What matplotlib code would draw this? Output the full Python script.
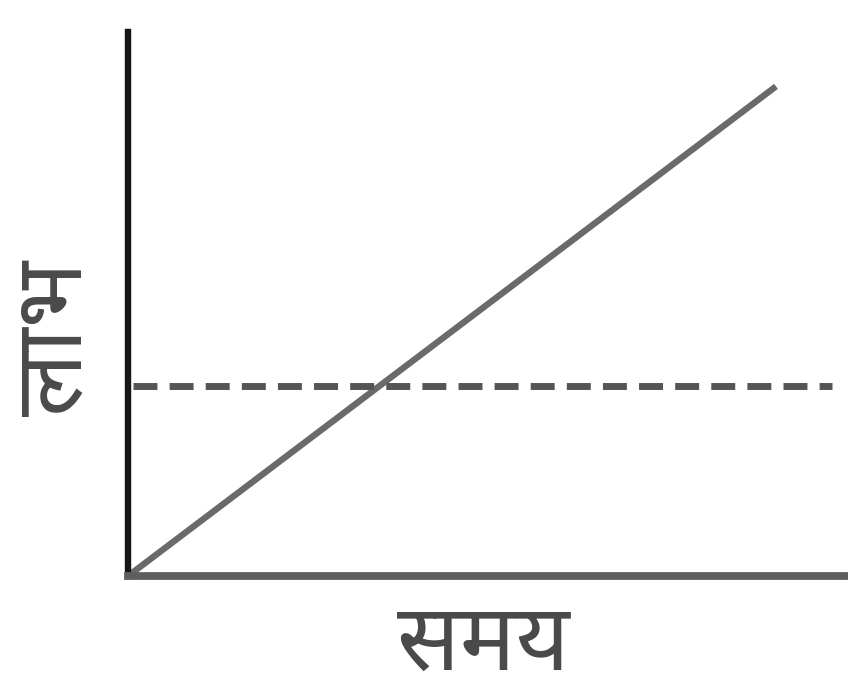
import matplotlib
matplotlib.use("Agg")
import matplotlib.pyplot as plt
from matplotlib import font_manager

# Axis labels (Hindi): profit vs. time
y_label = "लाभ"
x_label = "समय"

# Rising profit line and the constant reference level
time_points = [0, 9]
profit_values = [0, 9]
level_time = [0.07, 9.78]
level_values = [3.5, 3.5]


def pick_family(candidates):
    for name in candidates:
        try:
            font_manager.findfont(font_manager.FontProperties(family=name),
                                  fallback_to_default=False)
            return name
        except Exception:
            continue
    return "DejaVu Sans"


deva = pick_family(["Noto Sans Devanagari", "Hind", "Mukta", "Amiko",
                    "Poppins", "Anek Devanagari"])

fig = plt.figure(figsize=(8.48, 6.94), dpi=100)
W, H = 848, 694
ax = fig.add_axes([128 / W, (H - 576) / H, (848 - 128) / W, (576 - 32) / H])
ax.set_xlim(0, 10)
ax.set_ylim(0, 10)

ax.plot(time_points, profit_values, color="#6a6a6a", lw=4.6,
        solid_capstyle="butt", clip_on=False)
ax.plot(level_time, level_values, color="#555555", lw=5.0,
        dashes=(3.45, 1.75), clip_on=False)

for side in ("top", "right"):
    ax.spines[side].set_visible(False)
ax.spines["left"].set_color("#161616")
ax.spines["left"].set_linewidth(4.6)
ax.spines["bottom"].set_color("#5e5e5e")
ax.spines["bottom"].set_linewidth(5.6)
ax.set_xticks([])
ax.set_yticks([])

fig.text(483 / W, 1 - 645 / H, x_label, family=[deva, "DejaVu Sans"],
         fontsize=67, fontweight="bold", color="#4a4a4a",
         ha="center", va="center")
fig.text(57 / W, 1 - 338 / H, y_label, family=[deva, "DejaVu Sans"],
         fontsize=68, fontweight="bold", color="#4a4a4a",
         ha="center", va="center", rotation=90)

fig.savefig("out.png", dpi=100)
